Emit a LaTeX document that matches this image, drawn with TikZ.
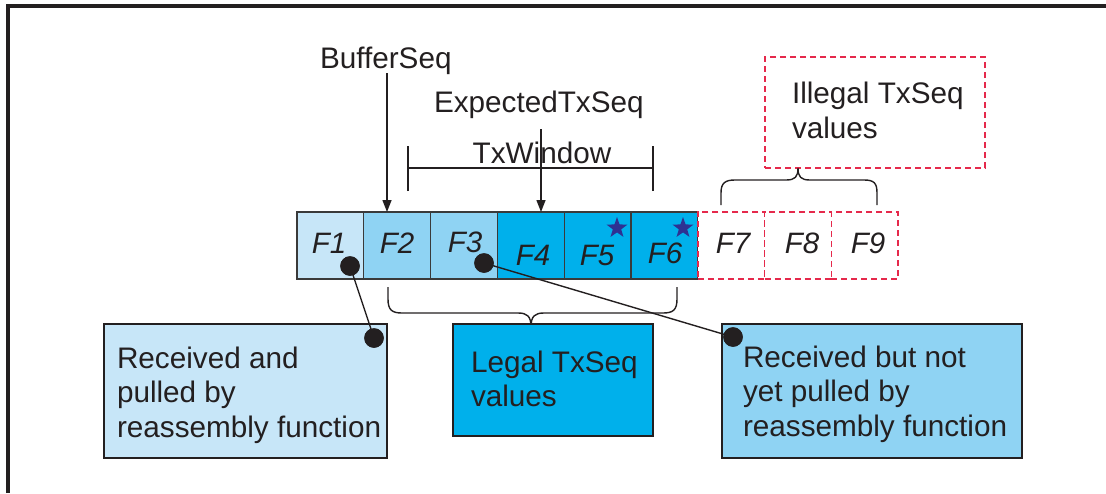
\documentclass[tikz,border=0pt]{standalone}
\usepackage{fontspec}
\setmainfont{Liberation Sans}
\usetikzlibrary{shapes.geometric,arrows.meta}
\definecolor{ink}{HTML}{231F20}
\definecolor{lightblue}{HTML}{C7E6F8}
\definecolor{midblue}{HTML}{8FD3F3}
\definecolor{cyanblue}{HTML}{00B0EB}
\definecolor{illred}{HTML}{E5294B}
\definecolor{starblue}{HTML}{2E3192}
\definecolor{cellline}{HTML}{3A3A3A}
\begin{document}
\begin{tikzpicture}[x=1pt,y=-1pt,
  txt/.style={font=\fontsize{29.7}{34.7}\selectfont, text=ink, inner sep=0pt, outer sep=0pt},
  flab/.style={font=\fontsize{29.5}{34.7}\selectfont\itshape, text=ink, inner sep=0pt, anchor=base},
  cell/.style={draw=cellline, line width=1.1pt, minimum width=66.8pt, minimum height=67pt, inner sep=0pt, outer sep=0pt, anchor=north west},
  redbox/.style={draw=illred, line width=1.6pt, dash pattern=on 6pt off 4pt, fill=white, inner sep=0pt, outer sep=0pt, anchor=north west},
  infobox/.style={draw=ink, line width=1.3pt, inner sep=0pt, outer sep=0pt, anchor=north west},
  dotnode/.style={circle, fill=ink, minimum size=19.5pt, inner sep=0pt},
  starnode/.style={star, star points=5, star point ratio=2.5, fill=starblue, minimum size=22pt, inner sep=0pt},
  thinline/.style={draw=ink, line width=1.4pt},
  arr/.style={thinline, -{Triangle[length=12pt,width=9pt]}}
]
\path[use as bounding box] (0,0) rectangle (1106,493);
% frame
\draw[line width=3.2pt, ink] (8,493) -- (8,6) -- (1106,6);

% cells
\node[cell, fill=lightblue] (c1) at (297,212) {};
\node[cell, fill=midblue] (c2) at (363.8,212) {};
\node[cell, fill=midblue] (c3) at (430.6,212) {};
\node[cell, fill=cyanblue] (c4) at (497.4,212) {};
\node[cell, fill=cyanblue] (c5) at (564.2,212) {};
\node[cell, fill=cyanblue] (c6) at (631,212) {};
\node[redbox, minimum width=66.8pt, minimum height=67pt] (c7) at (697.8,212) {};
\node[redbox, minimum width=66.8pt, minimum height=67pt] (c8) at (764.6,212) {};
\node[redbox, minimum width=66.8pt, minimum height=67pt] (c9) at (831.4,212) {};

% cell labels
\node[flab] (t1) at (329,253) {F1};
\node[flab] (t2) at (397,253) {F2};
\node[flab] (t3) at (465,252) {F3};
\node[flab] (t4) at (533,265) {F4};
\node[flab] (t5) at (597,265) {F5};
\node[flab] (t6) at (665,263) {F6};
\node[flab] (t7) at (733,253) {F7};
\node[flab] (t8) at (802,253) {F8};
\node[flab] (t9) at (868,253) {F9};

% stars
\node[starnode] (s5) at (617,228) {};
\node[starnode] (s6) at (683,228) {};

% top labels and arrows
\node[txt, anchor=base west] (tbuf) at (320,68) {BufferSeq};
\node[txt, anchor=base west] (texp) at (434,112) {ExpectedTxSeq};
\coordinate (bs) at (387,73);
\coordinate (es) at (541,129);
\draw[arr] (bs) -- (bs |- c2.north);
\draw[arr] (es) -- (es |- c4.north);

% TxWindow
\node[txt, anchor=base] (twin) at (542,163) {TxWindow};
\coordinate (wl) at (408,168);
\coordinate (wr) at (653,168);
\draw[thinline] (wl) -- (wr);
\draw[thinline] ([yshift=-23pt]wl) -- ([yshift=22pt]wl);
\draw[thinline] ([yshift=-23pt]wr) -- ([yshift=22pt]wr);

% illegal box
\node[redbox, minimum width=220pt, minimum height=111pt] (ill) at (765,57) {};
\node[txt, anchor=north west, align=left] (till) at (792,82) {Illegal TxSeq\\values};
\draw[thinline] (721,205) -- (721,193) .. controls (721,183) and (725,180) .. (735,180) -- (786,180) .. controls (795,180) and (798,177) .. (798,168) .. controls (798,177) and (801,180) .. (810,180) -- (864,180) .. controls (874,180) and (877,183) .. (877,193) -- (877,205);

% bottom brace
\draw[thinline] (388,287) -- (388,299) .. controls (388,310) and (392,313) .. (402,313) -- (518,313) .. controls (527,313) and (531,316) .. (531,327) .. controls (531,316) and (535,313) .. (544,313) -- (663,313) .. controls (673,313) and (677,310) .. (677,299) -- (677,287);

% info boxes
\node[infobox, fill=lightblue, minimum width=283pt, minimum height=134pt] (b1) at (104,324) {};
\node[txt, anchor=north west, align=left] (tb1) at (117,346.7) {Received and\\pulled by\\reassembly function};
\node[infobox, fill=cyanblue, minimum width=200pt, minimum height=112pt] (b2) at (453,324) {};
\node[txt, anchor=north west, align=left] (tb2) at (471,350.7) {Legal TxSeq\\values};
\node[infobox, fill=midblue, minimum width=300pt, minimum height=134pt] (b3) at (722,324) {};
\node[txt, anchor=north west, align=left] (tb3) at (743,345.7) {Received but not\\yet pulled by\\reassembly function};

% dots and connectors
\node[dotnode] (d1) at (350,266) {};
\node[dotnode] (d2) at (374,338) {};
\node[dotnode] (d3) at (484,263) {};
\node[dotnode] (d4) at (733,337) {};
\draw[thinline] (d1.center) -- (d2.center);
\draw[thinline] (d3.center) -- (d4.center);
\node[dotnode] at (d1) {};
\node[dotnode] at (d2) {};
\node[dotnode] at (d3) {};
\node[dotnode] at (d4) {};
\end{tikzpicture}
\end{document}
